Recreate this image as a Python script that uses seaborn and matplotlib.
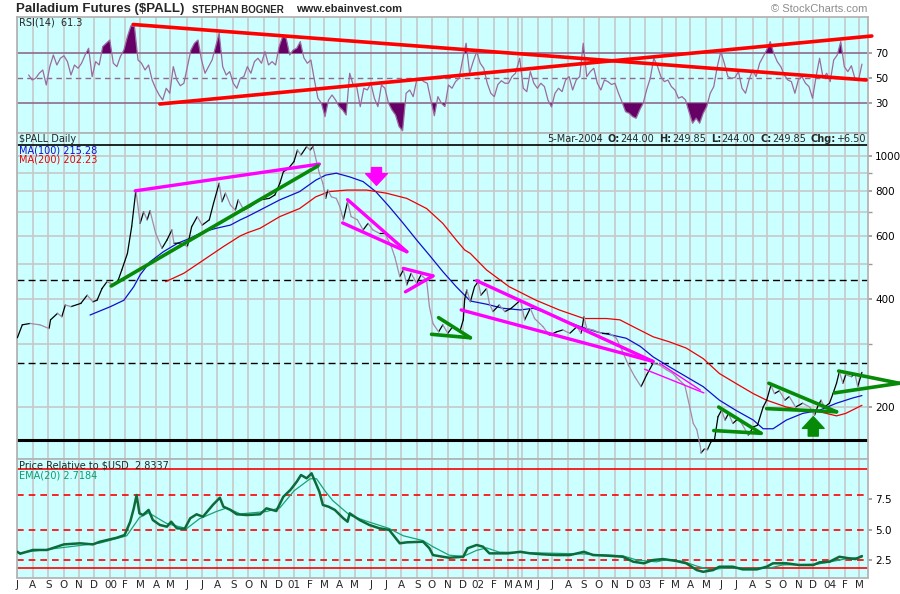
import numpy as np
import pandas as pd
import seaborn as sns
import matplotlib
matplotlib.use("Agg")
import matplotlib.pyplot as plt
from matplotlib.ticker import FixedLocator, NullFormatter

# ---------------- values ----------------
price_dates = [
    "1999-07-01", "1999-07-11", "1999-07-27", "1999-08-16", "1999-09-02", "1999-09-05", "1999-09-18", "1999-09-28",
    "1999-10-05", "1999-10-15", "1999-11-04", "1999-11-17", "1999-11-27", "1999-12-07", "1999-12-16", "1999-12-26",
    "2000-01-09", "2000-01-18", "2000-01-25", "2000-02-04", "2000-02-14", "2000-02-22", "2000-03-01", "2000-03-08",
    "2000-03-15", "2000-03-21", "2000-03-31", "2000-04-13", "2000-04-23", "2000-05-03", "2000-05-06", "2000-05-20",
    "2000-06-02", "2000-06-12", "2000-06-22", "2000-07-02", "2000-07-15", "2000-07-25", "2000-08-04", "2000-08-10",
    "2000-08-17", "2000-08-27", "2000-09-06", "2000-09-12", "2000-09-22", "2000-10-05", "2000-10-25", "2000-11-13",
    "2000-11-23", "2000-12-03", "2000-12-10", "2000-12-20", "2000-12-30",
    "2001-01-08", "2001-01-15", "2001-01-25", "2001-02-01", "2001-02-07", "2001-02-14", "2001-02-20", "2001-02-27",
    "2001-03-05", "2001-03-08", "2001-03-15", "2001-03-25", "2001-04-01", "2001-04-07", "2001-04-17", "2001-04-24",
    "2001-05-07", "2001-05-17", "2001-05-27", "2001-06-06", "2001-06-19", "2001-06-29", "2001-07-12", "2001-07-19",
    "2001-07-29", "2001-08-04", "2001-08-11", "2001-08-21", "2001-08-31", "2001-09-10", "2001-09-20", "2001-09-26",
    "2001-10-03", "2001-10-13", "2001-10-23", "2001-11-01", "2001-11-11", "2001-11-24", "2001-12-01", "2001-12-05",
    "2001-12-08", "2001-12-15", "2001-12-25",
    "2002-01-01", "2002-01-07", "2002-01-17", "2002-01-23", "2002-01-30", "2002-02-12", "2002-02-22", "2002-03-07",
    "2002-04-27", "2002-05-07", "2002-05-17", "2002-05-27", "2002-06-12", "2002-06-25", "2002-07-09", "2002-07-22",
    "2002-08-04", "2002-08-17", "2002-08-27", "2002-09-01", "2002-09-06", "2002-09-19", "2002-10-06", "2002-10-22",
    "2002-11-05", "2002-11-15", "2002-11-28", "2002-12-11", "2002-12-24",
    "2003-01-03", "2003-01-16", "2003-01-29", "2003-02-12", "2003-02-25", "2003-03-10", "2003-03-20", "2003-03-30",
    "2003-04-06", "2003-04-12", "2003-04-19", "2003-04-22", "2003-04-29", "2003-05-05", "2003-05-12", "2003-05-19",
    "2003-05-25", "2003-06-01", "2003-06-08", "2003-06-14", "2003-06-24", "2003-07-04", "2003-07-14", "2003-07-24",
    "2003-08-02", "2003-08-12", "2003-08-22", "2003-08-29", "2003-09-08", "2003-09-14", "2003-09-24", "2003-10-04",
    "2003-10-14", "2003-10-27", "2003-11-09", "2003-11-23", "2003-12-03", "2003-12-09", "2003-12-16", "2003-12-23",
    "2004-01-01", "2004-01-08", "2004-01-15", "2004-01-21", "2004-01-28", "2004-02-03", "2004-02-13", "2004-02-20",
    "2004-02-26", "2004-03-05",
]
price_close = [
    312, 339, 342, 339, 331, 350, 365, 357,
    385, 381, 389, 410, 393, 397, 428, 447,
    438, 452, 482, 536, 636, 805, 650, 700,
    665, 705, 610, 554, 584, 623, 572, 573,
    560, 636, 679, 643, 665, 739, 841, 747,
    789, 731, 708, 756, 708, 724, 756, 763,
    780, 841, 905, 924, 966,
    1041, 1008, 1064, 1041, 1064, 966, 897, 841,
    763, 805, 771, 763, 724, 665, 747, 679,
    665, 623, 650, 623, 610, 610, 560, 524,
    462, 482, 438, 472, 442, 467, 452, 381,
    342, 324, 339, 321, 335, 324, 350, 400,
    424, 393, 433,
    447, 410, 428, 389, 369, 385, 369, 377,
    397, 350, 377, 353, 335, 317, 324, 328,
    321, 335, 321, 357, 331, 328, 321, 321,
    311, 288, 262, 243, 228,
    246, 265, 262, 254, 248, 238, 230, 200,
    180, 173, 155, 149, 153, 152, 160, 162,
    188, 196, 184, 192, 180, 186, 178, 167,
    176, 178, 200, 209, 230, 218, 222, 209,
    214, 200, 205, 200, 190, 200, 209, 200,
    205, 218, 233, 251, 233, 246, 243, 248,
    228, 249.85,
]

ma100_dates = [
    "1999-11-23", "2000-01-02", "2000-01-28", "2000-02-17", "2000-03-01", "2000-03-21", "2000-04-16", "2000-05-13",
    "2000-06-08", "2000-07-05", "2000-07-31", "2000-08-27", "2000-09-15", "2000-09-29", "2000-10-25", "2000-12-03",
    "2001-01-11", "2001-02-13", "2001-03-05", "2001-03-25", "2001-04-20", "2001-05-17", "2001-06-12", "2001-07-09",
    "2001-08-04", "2001-08-31", "2001-09-26", "2001-10-23", "2001-11-19", "2001-12-15", "2002-01-17", "2002-02-19",
    "2002-04-27", "2002-05-23", "2002-06-19", "2002-07-22", "2002-08-24", "2002-09-26", "2002-10-29", "2002-11-24",
    "2002-12-21", "2003-01-16", "2003-02-18", "2003-03-23", "2003-04-25", "2003-05-28", "2003-06-30", "2003-08-02",
    "2003-08-22", "2003-09-11", "2003-10-08", "2003-11-09", "2003-12-12", "2004-01-15", "2004-02-17", "2004-03-05",
]
ma100 = [
    361, 381, 397, 433, 467, 508, 542, 572,
    591, 616, 630, 643, 665, 679, 708, 756,
    797, 858, 886, 897, 876, 850, 797, 724,
    650, 584, 530, 477, 433, 395, 387, 377,
    373, 377, 366, 350, 335, 324, 317, 311,
    295, 276, 259, 243, 228, 209, 196, 184,
    174, 174, 184, 192, 196, 205, 212, 215.28,
]

ma200_dates = [
    "2000-04-20", "2000-05-26", "2000-07-05", "2000-08-14", "2000-09-15", "2000-09-29", "2000-10-25", "2000-12-03",
    "2001-01-11", "2001-02-13", "2001-03-12", "2001-04-14", "2001-05-24", "2001-07-03", "2001-08-11", "2001-09-20",
    "2001-10-23", "2001-11-19", "2001-12-05", "2001-12-15", "2002-01-17", "2002-03-04", "2002-05-29", "2002-07-15",
    "2002-08-31", "2002-10-16", "2002-11-12", "2002-12-15", "2003-01-16", "2003-02-18", "2003-03-23", "2003-04-25",
    "2003-05-28", "2003-06-30", "2003-08-02", "2003-08-29", "2003-10-08", "2003-11-09", "2003-12-12", "2004-01-15",
    "2004-02-03", "2004-03-05",
]
ma200 = [
    447, 472, 514, 560, 600, 612, 630, 679,
    715, 771, 797, 805, 805, 789, 763, 715,
    650, 584, 548, 536, 482, 433, 397, 373,
    353, 353, 350, 331, 314, 304, 292, 273,
    248, 233, 218, 209, 200, 196, 194, 189,
    192, 202.23,
]

# RSI(14), one reading per week (Fridays)
rsi_vals = [
    52.6, 48.6, 50, 54, 56.6, 44.6, 59.3, 68.6, 60.6, 66,
    68, 63.3, 52.6, 60.6, 58, 62, 68.6, 74, 51.3, 63.3,
    60.6, 75.3, 78, 80.6, 62, 59.3, 67.3, 72.6, 83.3, 92,
    91.3, 64.6, 62, 56.6, 60.6, 48.6, 42, 36.6, 32.6, 42,
    38, 59.3, 48.6, 44, 46, 59.3, 72.6, 78, 80.6, 64.6,
    54, 59.3, 64.6, 75.3, 86, 59.3, 52.6, 55.3, 46, 42,
    50, 51.3, 59.3, 54, 63.3, 66, 62, 71.3, 60.6, 63.3,
    60.6, 75.3, 83.3, 82, 68.6, 72.6, 74, 79.3, 66.5, 62,
    64.6, 48.6, 34, 30, 19.3, 32.6, 36.6, 32.6, 27.3, 24.6,
    20.6, 54, 44.6, 43, 27.3, 42, 40.6, 46, 34, 27.3,
    44.6, 42, 30, 24.6, 20.6, 11.3, 8, 38, 40.6, 35.3,
    48.6, 50, 47.3, 46, 32.6, 20, 35.3, 30, 27.3, 44.6,
    42, 47.3, 50, 64.6, 78, 54, 63.3, 71.3, 62, 58,
    46, 38, 35.3, 45, 48, 46, 46, 51.3, 54,
    66, 42, 39.3, 55.3, 46, 42, 46, 43.3, 32.6, 27,
    38, 42, 39.3, 48.6, 51.3, 40.6, 48.6, 51.3, 78, 51.3,
    55.3, 58, 46, 40.6, 48.6, 47.3, 45, 46, 38, 31,
    23.3, 22, 19.3, 18, 24.6, 30, 41, 50, 66, 60,
    51.3, 47.3, 48.6, 43.3, 40.6, 34, 35.3, 32.6, 23, 14,
    18, 14, 22, 27.3, 38, 43.3, 59.3, 71.3, 62, 51.3,
    50, 50.5, 55.3, 42, 38, 48.6, 56.6, 51.3, 62, 67.3,
    72.6, 79.3, 70, 63.3, 59.3, 52.6, 48.6, 47.3, 38, 49,
    51.3, 46, 43.3, 34, 51.3, 66, 50, 54, 47.3, 64.6,
    68.6, 79.3, 59.3, 55.3, 60, 50, 48, 61.3,
]

rel_dates = [
    "1999-07-01", "1999-07-07", "1999-08-02", "1999-08-29", "1999-10-01", "1999-11-03", "1999-11-29", "1999-12-12",
    "2000-01-14", "2000-01-31", "2000-02-10", "2000-02-17", "2000-02-23", "2000-02-29", "2000-03-07", "2000-03-17",
    "2000-03-27", "2000-04-09", "2000-04-22", "2000-05-02", "2000-05-12", "2000-05-29", "2000-06-08", "2000-06-21",
    "2000-07-04", "2000-07-24", "2000-08-06", "2000-08-12", "2000-08-26", "2000-09-08", "2000-09-28", "2000-10-25",
    "2000-11-07", "2000-11-27", "2000-12-10", "2000-12-23", "2001-01-05", "2001-01-15", "2001-01-25", "2001-02-04",
    "2001-02-10", "2001-02-20", "2001-02-27", "2001-03-09", "2001-03-22", "2001-04-07", "2001-04-17", "2001-04-20",
    "2001-05-10", "2001-05-30", "2001-06-19", "2001-07-09", "2001-07-29", "2001-08-11", "2001-09-13", "2001-09-26",
    "2001-10-03", "2001-10-23", "2001-11-05", "2001-12-01", "2001-12-11", "2001-12-28", "2002-01-10", "2002-01-23",
    "2002-02-12", "2002-02-28", "2002-04-27", "2002-05-17", "2002-06-12", "2002-07-09", "2002-08-04", "2002-08-31",
    "2002-09-19", "2002-10-22", "2002-11-18", "2002-12-08", "2002-12-28", "2003-01-16", "2003-02-05", "2003-03-04",
    "2003-03-23", "2003-04-12", "2003-04-25", "2003-05-15", "2003-05-28", "2003-06-24", "2003-07-14", "2003-08-10",
    "2003-08-29", "2003-09-11", "2003-10-08", "2003-11-03", "2003-11-29", "2003-12-12", "2004-01-01", "2004-01-21",
    "2004-02-10", "2004-02-23", "2004-03-05",
]
rel_vals = [
    3.18, 3.02, 3.33, 3.33, 3.79, 3.88, 3.79, 4.01,
    4.34, 4.56, 5.66, 6.76, 7.86, 6.35, 6.21, 6.63,
    5.8, 5.39, 5.25, 5.66, 5.12, 5.06, 5.94, 6.27,
    6.07, 7.04, 7.64, 6.9, 6.63, 6.27, 6.21, 6.27,
    6.76, 6.54, 7.72, 8.28, 8.96, 9.51, 9.24, 9.65,
    8.96, 8.14, 7.04, 6.9, 6.63, 5.94, 5.66, 6.35,
    5.8, 5.39, 5.12, 4.98, 3.88, 3.96, 4.01, 3.47,
    2.91, 2.77, 2.69, 2.77, 3.47, 3.74, 3.6, 3.05,
    3.05, 3.05, 3.18, 3.05, 2.97, 2.91, 2.91, 3.18,
    2.91, 2.85, 2.77, 2.36, 2.23, 2.5, 2.58, 2.42,
    2.23, 1.67, 1.53, 1.67, 1.95, 1.95, 1.73, 1.73,
    1.95, 2.23, 2.23, 2.09, 2.09, 2.31, 2.36, 2.77,
    2.64, 2.58, 2.83,
]

ema_dates = [
    "1999-07-07", "1999-12-12", "2000-02-03", "2000-02-29", "2000-03-17", "2000-04-22", "2000-06-01", "2000-06-27",
    "2000-07-30", "2000-08-19", "2000-09-15", "2000-11-07", "2000-12-03", "2000-12-30", "2001-02-01", "2001-02-14",
    "2001-03-02", "2001-03-18", "2001-04-20", "2001-05-24", "2001-07-09", "2001-08-04", "2001-09-13", "2001-10-03",
    "2001-11-05", "2001-12-01", "2001-12-28", "2002-01-17", "2002-02-12", "2002-05-23", "2002-08-31", "2002-11-18",
    "2002-12-15", "2003-01-23", "2003-02-12", "2003-03-17", "2003-04-12", "2003-05-09", "2003-06-11", "2003-07-27",
    "2003-09-05", "2003-10-01", "2003-12-06", "2004-01-15", "2004-02-10", "2004-03-05",
]
ema_vals = [
    3.1, 3.9, 4.5, 6.0, 6.4, 5.5, 5.1, 5.9,
    6.5, 6.8, 6.3, 6.5, 6.8, 8.2, 9.2, 9.2,
    8.2, 7.4, 6.2, 5.7, 5.1, 4.5, 4.1, 3.6,
    2.9, 2.8, 3.3, 3.5, 3.15, 3.1, 3.0, 2.85,
    2.5, 2.35, 2.55, 2.4, 2.0, 1.7, 1.85, 1.8,
    1.85, 2.1, 2.15, 2.45, 2.65, 2.72,
]

# drawn trendlines: (start date, start value, end date, end value)
rsi_lines = [("2000-02-16", 93.0, "2004-03-15", 48.6), ("2000-04-09", 29.4, "2004-03-25", 83.8)]
magenta_lines = [
    ("2000-02-21", 801, "2001-02-20", 951),
    ("2001-04-17", 757, "2001-08-12", 542), ("2001-04-06", 652, "2001-08-12", 542),
    ("2001-08-04", 487, "2001-10-03", 464), ("2001-08-09", 419, "2001-10-03", 464),
    ("2001-12-28", 450, "2003-01-16", 268), ("2001-11-28", 373, "2003-01-16", 268),
]
magenta_thin = [("2002-12-31", 255, "2003-04-26", 219), ("2003-01-29", 265, "2003-04-19", 223)]
green_lines = [
    ("2000-01-04", 435, "2001-02-16", 940),
    ("2001-10-13", 355, "2001-12-15", 312), ("2001-10-01", 319, "2001-12-15", 312),
    ("2003-05-27", 200, "2003-08-19", 169), ("2003-05-16", 172, "2003-08-19", 169),
    ("2003-09-03", 233, "2004-01-15", 194), ("2003-08-29", 198, "2004-01-15", 194),
    ("2004-01-20", 252, "2004-05-19", 233), ("2004-01-11", 219, "2004-05-19", 233),
]
solid_levels = [1075, 162]
dashed_levels = [452, 266]
down_arrow = ("2001-06-13", 930, 830)
up_arrow = ("2003-12-01", 166, 188)
rel_solid = [10.0, 1.84]
rel_dashed = [7.83, 5.0, 2.5]

# ---------------- x scale: trading sessions (feed has a hole in spring 2002) ----------------
sessions = pd.bdate_range("1999-07-01", "2004-06-30")
sessions = sessions[(sessions < "2002-03-21") | (sessions > "2002-04-23")]


def pos(d):
    return sessions.searchsorted(pd.to_datetime(d))


rsi_dates = pd.date_range("1999-07-23", "2004-03-05", freq="W-FRI")
rsi_dates = rsi_dates[(rsi_dates < "2002-03-21") | (rsi_dates > "2002-04-23")]

sns.set_theme(style="white")
plt.rcParams["font.family"] = ["DejaVu Sans"]

W, H = 900, 594
BG = "#CCFFFF"
GRID = "#C8C8C8"
fig = plt.figure(figsize=(9, 5.94), dpi=100)


def rect(top, bottom):
    return [17 / W, 1 - bottom / H, 851 / W, (bottom - top) / H]


ax_rsi = fig.add_axes(rect(17, 133))
ax_p = fig.add_axes(rect(133, 459))
ax_r = fig.add_axes(rect(459, 577.5))

months = pd.date_range("1999-07-01", "2004-03-01", freq="MS")
mpos = pos(months)
mlab = [f"{m.year % 100:02d}" if m.month == 1 else "JFMAMJJASOND"[m.month - 1] for m in months]
xmax = pos("2004-03-05") + 8.6

for ax in (ax_rsi, ax_p, ax_r):
    ax.set_facecolor(BG)
    ax.set_xlim(-0.5, xmax)
    ax.set_xticks(mpos)
    ax.grid(True, axis="x", color=GRID, lw=1.2)
    ax.set_axisbelow(True)
    for sp in ax.spines.values():
        sp.set_color("#B4B4B4")
        sp.set_linewidth(1.3)
    ax.yaxis.tick_right()
    ax.tick_params(axis="y", which="both", direction="out", length=3, color="#999999",
                   labelsize=7.5, pad=2, labelcolor="black")
    ax.tick_params(axis="x", length=0, labelbottom=False)

# ---- RSI panel ----
rx = pos(rsi_dates)
ry = np.array(rsi_vals)
for lvl in (70, 30):
    ax_rsi.axhline(lvl, color="#8E6B8E", lw=1.2, zorder=1)
ax_rsi.axhline(50, color="#8E6B8E", lw=1.0, ls=(0, (4, 3)), zorder=1)
ax_rsi.fill_between(rx, ry, 70, where=ry >= 70, interpolate=True, color="#660066", lw=0, zorder=2)
ax_rsi.fill_between(rx, ry, 30, where=ry <= 30, interpolate=True, color="#660066", lw=0, zorder=2)
sns.lineplot(x=rx, y=ry, color="#9B6B9E", lw=0.9, ax=ax_rsi, zorder=3)
for d0, v0, d1, v1 in rsi_lines:
    sns.lineplot(x=[pos(d0), pos(d1)], y=[v0, v1], color="#FF0000", lw=2.6, ax=ax_rsi,
                 clip_on=False, zorder=4)
ax_rsi.set_ylim(6.2, 99)
ax_rsi.set_yticks([30, 50, 70])
ax_rsi.set_ylabel("")

# ---- price panel ----
px = pos(price_dates)
rows = []
for i in range(len(px) - 1):
    d = "up" if price_close[i + 1] >= price_close[i] else "down"
    rows += [(i, px[i], price_close[i], d), (i, px[i + 1], price_close[i + 1], d)]
seg = pd.DataFrame(rows, columns=["seg", "x", "y", "dir"])

for v in range(200, 1100, 100):
    ax_p.axhline(v, color=GRID, lw=1.2, zorder=0)
for v in solid_levels:
    ax_p.axhline(v, color="black", lw=1.2 if v > 500 else 2.2, zorder=2)
for v in dashed_levels:
    ax_p.axhline(v, color="black", lw=1.0, ls=(0, (5, 3)), zorder=2)

sns.lineplot(x=pos(ma100_dates), y=ma100, color="#1010CC", lw=0.9, ax=ax_p, zorder=3)
sns.lineplot(x=pos(ma200_dates), y=ma200, color="#EE0000", lw=0.9, ax=ax_p, zorder=3)
sns.lineplot(data=seg, x="x", y="y", hue="dir", units="seg", estimator=None, sort=False,
             palette={"up": "black", "down": "#A58AA5"}, lw=0.9, legend=False, ax=ax_p, zorder=4)
for d0, v0, d1, v1 in magenta_lines:
    sns.lineplot(x=[pos(d0), pos(d1)], y=[v0, v1], color="#FF00FF", lw=2.4, ax=ax_p, zorder=5)
for d0, v0, d1, v1 in magenta_thin:
    sns.lineplot(x=[pos(d0), pos(d1)], y=[v0, v1], color="#FF00FF", lw=1.0, ax=ax_p, zorder=5)
for d0, v0, d1, v1 in green_lines:
    sns.lineplot(x=[pos(d0), pos(d1)], y=[v0, v1], color="#078A07", lw=2.6, ax=ax_p,
                 clip_on=False, zorder=5)

for (d, v0, v1), c in ((down_arrow, "#FF00FF"), (up_arrow, "#078A07")):
    ax_p.annotate("", xy=(pos(d), v1), xytext=(pos(d), v0),
                  arrowprops=dict(arrowstyle="simple,head_length=0.7,head_width=1.3,tail_width=0.6",
                                  color=c, mutation_scale=12, shrinkA=0, shrinkB=0), zorder=6)

ax_p.set_yscale("log")
ax_p.set_ylim(143.3, 1161)
ax_p.set_yticks([200, 400, 600, 800, 1000])
ax_p.set_yticklabels(["200", "400", "600", "800", "1000"])
ax_p.yaxis.set_minor_locator(FixedLocator([300, 500, 700, 900]))
ax_p.yaxis.set_minor_formatter(NullFormatter())
ax_p.set_xlabel("")
ax_p.set_ylabel("")

# ---- price relative panel ----
for v in rel_solid:
    ax_r.axhline(v, color="#FF0000", lw=1.2, zorder=1)
for v in rel_dashed:
    ax_r.axhline(v, color="#FF0000", lw=1.2, ls=(0, (4, 3)), zorder=1)
sns.lineplot(x=pos(ema_dates), y=ema_vals, color="#14A478", lw=0.9, ax=ax_r, zorder=3)
sns.lineplot(x=pos(rel_dates), y=rel_vals, color="#0B6B3A", lw=1.8, ax=ax_r, zorder=4)
ax_r.set_ylim(1.06, 10.83)
ax_r.set_yticks([2.5, 5.0, 7.5])
ax_r.set_yticklabels(["2.5", "5.0", "7.5"])

# April and May 2002 sit almost on top of each other (data hole): nudge May right
squeezed = {pd.Timestamp("2002-05-01"): 4.5}
ax_r.set_xticklabels(["" if m in squeezed else s for m, s in zip(months, mlab)])
ax_r.tick_params(axis="x", labelbottom=True, labelsize=7.5, pad=1.5)
for m, dx in squeezed.items():
    ax_r.annotate("JFMAMJJASOND"[m.month - 1], xy=(pos(m), 0), xycoords=("data", "axes fraction"),
                  xytext=(dx, -1.5), textcoords="offset points", ha="center", va="top", fontsize=7.5)
ax_r.set_xlabel("")
ax_r.set_ylabel("")


# ---- texts ----
def ftext(x, y, s, **kw):
    fig.text(x / W, 1 - y / H, s, va="center", **kw)


ftext(16, 9, "Palladium Futures ($PALL)", fontsize=9.5, weight="bold", family="Liberation Sans")
ftext(192, 10, "STEPHAN BOGNER", fontsize=7, weight="bold", family="Liberation Sans")
ftext(296, 9.5, "www.ebainvest.com", fontsize=8, weight="bold", family="Liberation Sans")
ftext(867, 9.5, "\u00a9 StockCharts.com", fontsize=8, color="#8C8C8C", ha="right", family="Liberation Sans")
ftext(19, 22.5, "RSI(14)  61.3", fontsize=7)
ftext(19, 139, "$PALL Daily", fontsize=7)
ftext(19, 150, "MA(100) 215.28", fontsize=7, color="#1010CC")
ftext(19, 160, "MA(200) 202.23", fontsize=7, color="#EE0000")
ftext(19, 465.5, "Price Relative to $USD  2.8337", fontsize=7)
ftext(19, 476, "EMA(20) 2.7184", fontsize=7, color="#0F9A70")

# quote line, built right-to-left so it ends at the panel edge
pieces = [("5-Mar-2004", False), ("O:", True), ("244.00", False), ("H:", True), ("249.85", False),
          ("L:", True), ("244.00", False), ("C:", True), ("249.85", False), ("Chg:", True), ("+6.50", False)]
nxt = None
bold_next = False
for s, bold in reversed(pieces):
    w = "bold" if bold else "normal"
    if nxt is None:
        nxt = ax_p.annotate(s, xy=(866, H - 139), xycoords="figure pixels", ha="right", va="center",
                            fontsize=7, weight=w)
    else:
        gap = 0.4 if (bold and not bold_next) else 3.5
        nxt = ax_p.annotate(s, xy=(0, 0.5), xycoords=nxt, xytext=(-gap, 0), textcoords="offset points",
                            ha="right", va="center", fontsize=7, weight=w)
    bold_next = bold

fig.savefig("out.png", dpi=100, facecolor="white")
